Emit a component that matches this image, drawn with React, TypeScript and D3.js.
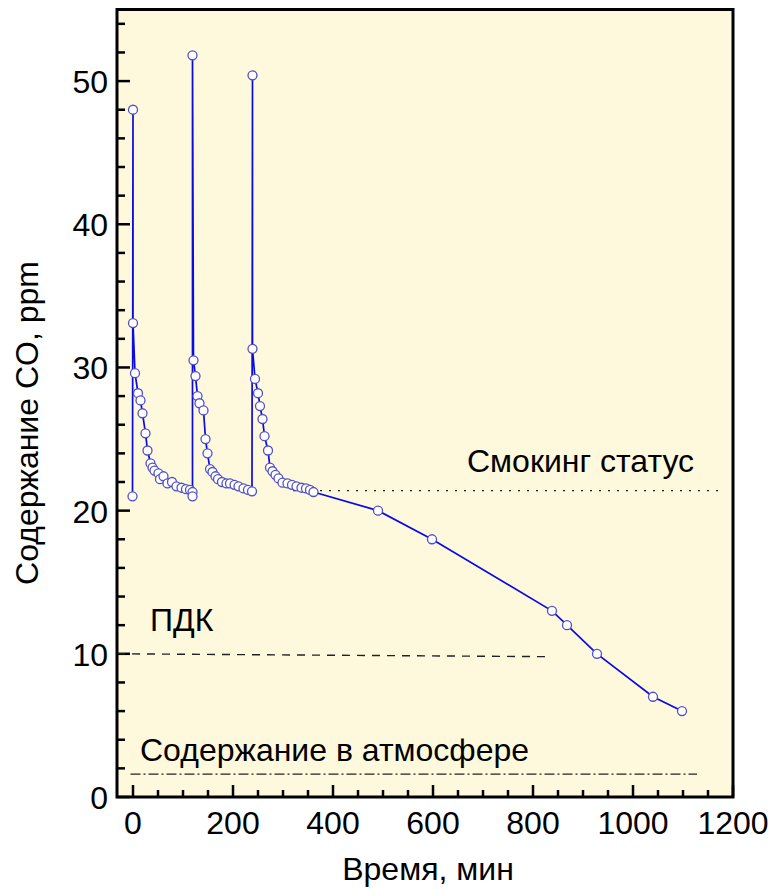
import React from "react";
import * as d3 from "d3";

// Measured CO concentration over time (three smoking episodes, then decay)
const timeMin = [
  -1, 0, 0, 4, 10, 15, 19, 25, 29, 35, 39, 43, 51, 54, 61, 69, 78, 87, 97, 106, 114, 119, 119,
  119, 121, 125, 129, 133, 141, 145, 149, 154, 159, 165, 170, 178, 187, 194, 203, 211, 221, 230, 238,
  239, 239, 244, 250, 254, 259, 263, 270, 274, 279, 285, 291, 299, 309, 318, 327, 337, 346, 354, 361,
  490, 598, 838, 868, 928, 1040, 1098,
];
const coPpm = [
  21.0, 48.0, 33.1, 29.6, 28.2, 27.7, 26.8, 25.4, 24.2, 23.3, 23.0, 22.8, 22.6, 22.2, 22.4, 21.9, 22.0, 21.7, 21.6, 21.5, 21.45, 21.3, 21.0,
  51.8, 30.5, 29.4, 28.0, 27.5, 27.0, 25.0, 24.0, 22.9, 22.7, 22.4, 22.2, 22.0, 21.9, 21.9, 21.8, 21.7, 21.55, 21.45, 21.35,
  50.4, 31.3, 29.2, 28.2, 27.3, 26.4, 25.2, 24.2, 23.0, 22.75, 22.5, 22.25, 21.95, 21.9, 21.8, 21.7, 21.6, 21.55, 21.45, 21.3,
  20.0, 18.0, 13.0, 12.0, 10.0, 7.0, 6.0,
];

// Reference levels: [x0, x1, y0, y1]
const smokingLevel = [320, 1175, 21.4, 21.4];
const pdkLevel = [-32, 830, 10.0, 9.8];
const atmosphereLevel = [-5, 1128, 1.6, 1.6];

const xTicks = [0, 200, 400, 600, 800, 1000, 1200];
const yTicks = [0, 10, 20, 30, 40, 50];

const xTitle = "Время, мин";
const yTitle = "Содержание CO, ppm";
const smokingLabel = "Смокинг статус";
const pdkLabel = "ПДК";
const atmosphereLabel = "Содержание в атмосфере";

const W = 775;
const H = 890;
const plot = { left: 117, right: 733, top: 9.5, bottom: 797 };
const font = "'Liberation Sans', Arial, sans-serif";

export default function App() {
  const x = d3.scaleLinear().domain([-32, 1200]).range([plot.left, plot.right]);
  const y = d3.scaleLinear().domain([0, 55]).range([plot.bottom, plot.top]);

  const pts = timeMin.map((t, i) => [t, coPpm[i]] as [number, number]);
  const line = d3
    .line<[number, number]>()
    .x((d) => x(d[0]))
    .y((d) => y(d[1]));

  const xMinor = d3.range(0, 1201, 50);
  const yMinor = d3.range(0, 55, 2);

  const refLine = (l: number[], dash: string, key: string) => (
    <line
      key={key}
      x1={x(l[0])}
      x2={x(l[1])}
      y1={y(l[2])}
      y2={y(l[3])}
      stroke="#222"
      strokeWidth={1.4}
      strokeDasharray={dash}
    />
  );

  return (
    <svg width={W} height={H} style={{ position: "absolute", left: 0, top: 0 }}>
      <rect x={0} y={0} width={W} height={H} fill="#ffffff" />
      <rect
        x={plot.left}
        y={plot.top}
        width={plot.right - plot.left}
        height={plot.bottom - plot.top}
        fill="#fef9dc"
      />

      {/* inward ticks */}
      {xMinor.map((t) => (
        <line
          key={"xt" + t}
          x1={x(t)}
          x2={x(t)}
          y1={plot.bottom}
          y2={plot.bottom - (t % 200 === 0 ? 12 : 7)}
          stroke="#000"
          strokeWidth={2.5}
        />
      ))}
      {yMinor.map((v) => (
        <line
          key={"yt" + v}
          x1={plot.left}
          x2={plot.left + (v % 10 === 0 ? 13 : 8)}
          y1={y(v)}
          y2={y(v)}
          stroke="#000"
          strokeWidth={2.5}
        />
      ))}

      {/* reference levels */}
      {refLine(smokingLevel, "2,7", "smk")}
      {refLine(pdkLevel, "8,7", "pdk")}
      {refLine(atmosphereLevel, "10,3,2,3", "atm")}

      {/* data series */}
      <path d={line(pts) || ""} fill="none" stroke="#0a0ae6" strokeWidth={1.7} />
      {pts.map((d, i) => (
        <circle
          key={"p" + i}
          cx={x(d[0])}
          cy={y(d[1])}
          r={4.5}
          fill="#ffffff"
          stroke="#5050c8"
          strokeWidth={1.3}
        />
      ))}

      {/* frame */}
      <rect
        x={plot.left}
        y={plot.top}
        width={plot.right - plot.left}
        height={plot.bottom - plot.top}
        fill="none"
        stroke="#000"
        strokeWidth={3}
      />

      {/* tick labels */}
      {xTicks.map((t) => (
        <text
          key={"xl" + t}
          x={x(t)}
          y={834}
          textAnchor="middle"
          fontFamily={font}
          fontSize={32}
          fill="#000"
        >
          {t}
        </text>
      ))}
      {yTicks.map((v) => (
        <text
          key={"yl" + v}
          x={108}
          y={y(v) + 12}
          textAnchor="end"
          fontFamily={font}
          fontSize={32}
          fill="#000"
        >
          {v}
        </text>
      ))}

      {/* annotations */}
      <text x={467} y={472} fontFamily={font} fontSize={32} fill="#000">
        {smokingLabel}
      </text>
      <text x={150} y={631} fontFamily={font} fontSize={32} fill="#000">
        {pdkLabel}
      </text>
      <text x={140} y={761} fontFamily={font} fontSize={32} fill="#000">
        {atmosphereLabel}
      </text>

      {/* axis titles */}
      <text x={428} y={880} textAnchor="middle" fontFamily={font} fontSize={32} fill="#000">
        {xTitle}
      </text>
      <text
        transform="translate(38,423) rotate(-90)"
        textAnchor="middle"
        fontFamily={font}
        fontSize={32}
        fill="#000"
      >
        {yTitle}
      </text>
    </svg>
  );
}
